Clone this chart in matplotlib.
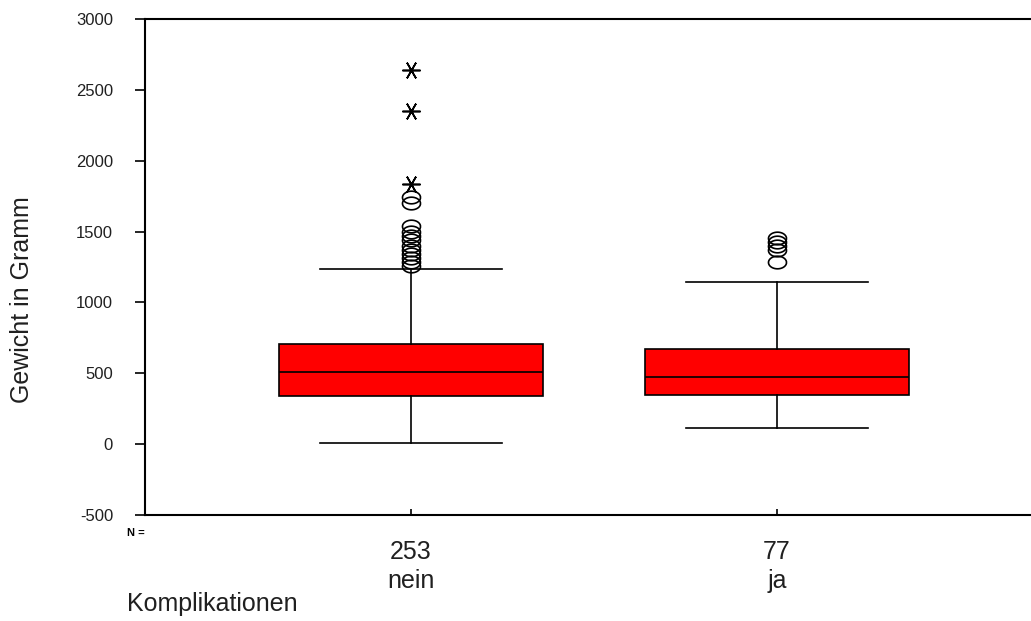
import matplotlib
matplotlib.use("Agg")
import matplotlib.pyplot as plt
import numpy as np
from matplotlib.path import Path

# box statistics (Gewicht in Gramm)
groups = ["nein", "ja"]
counts = [253, 77]
q1 = [339, 346]
median = [508, 473]
q3 = [706, 671]
whisker_low = [7, 113]
whisker_high = [1235, 1144]
# outliers (circles) and extreme values (stars)
outliers = [
    [1745, 1700, 1540, 1500, 1470, 1440, 1400, 1370, 1340, 1310, 1285, 1260],
    [1455, 1425, 1400, 1370, 1285],
]
extremes = [
    [2640, 2350, 1835],
    [],
]
yticks = [-500, 0, 500, 1000, 1500, 2000, 2500, 3000]

plt.rcParams["font.family"] = ["Liberation Sans", "DejaVu Sans"]

# flat oval marker like the SPSS outlier symbol
t = np.linspace(0, 2 * np.pi, 41)
oval = Path(np.column_stack([np.cos(t), 0.7 * np.sin(t)]))

fig = plt.figure(figsize=(10.31, 6.21), dpi=100)
ax = fig.add_axes([0.1406, 0.1707, 0.8594, 0.7987])

stats = []
for i in range(len(groups)):
    stats.append(dict(med=median[i], q1=q1[i], q3=q3[i],
                      whislo=whisker_low[i], whishi=whisker_high[i],
                      fliers=outliers[i]))
pos = list(range(1, len(groups) + 1))
ax.bxp(stats, positions=pos, widths=0.72, capwidths=0.495,
       patch_artist=True, manage_ticks=False,
       boxprops=dict(facecolor="#ff0000", edgecolor="black", linewidth=1.2),
       medianprops=dict(color="black", linewidth=1.2),
       whiskerprops=dict(color="black", linewidth=1.2),
       capprops=dict(color="black", linewidth=1.2),
       flierprops=dict(marker=oval, markersize=13, markerfacecolor="none",
                       markeredgecolor="black", markeredgewidth=1.2))
for p, ext in zip(pos, extremes):
    if ext:
        ax.plot([p] * len(ext), ext, linestyle="none", marker=(6, 2, 90),
                markersize=13, color="black", markeredgewidth=1.2)

ax.set_xlim(0.273, 2.694)
ax.set_ylim(-500, 3000)
ax.set_yticks(yticks)
ax.set_yticklabels([str(t) for t in yticks], fontsize=12, color="#202020")
ax.tick_params(axis="y", direction="out", length=7, width=1.2, pad=16)
ax.set_xticks(pos)
ax.set_xticklabels([f"{c}\n{g}" for c, g in zip(counts, groups)],
                   fontsize=18, linespacing=1.25, color="#202020")
ax.tick_params(axis="x", direction="in", length=4, width=1.2, pad=18)
ax.spines["right"].set_visible(False)
for s in ["left", "top", "bottom"]:
    ax.spines[s].set_linewidth(1.5)

fig.text(22 / 1031, 1 - 300 / 621, "Gewicht in Gramm", fontsize=18,
         rotation=90, ha="center", va="center", color="#202020")
fig.text(127 / 1031, 1 - 533 / 621, "N =", fontsize=8, fontweight="bold",
         ha="left", va="center")
fig.text(127 / 1031, 1 - 604 / 621, "Komplikationen", fontsize=18,
         ha="left", va="center", color="#202020")

fig.savefig("out.png", dpi=100)
